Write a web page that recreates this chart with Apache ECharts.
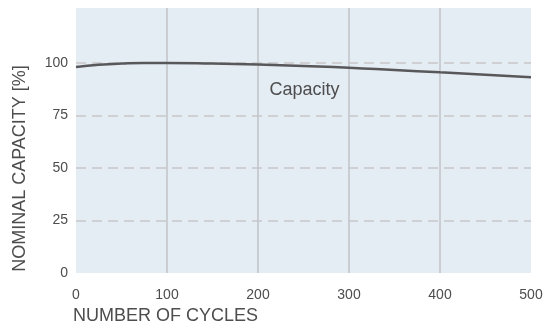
<!DOCTYPE html>
<html>
<head>
<meta charset="utf-8">
<script src="https://cdn.jsdelivr.net/npm/echarts@6/dist/echarts.min.js"></script>
<style>
	html, body { margin: 0; padding: 0; background: #fff; }
	#chart { width: 552px; height: 329px; }
</style>
</head>
<body>
<div id="chart"></div>
<script>
// capacity curve
var cycles = [0, 25, 50, 75, 100, 150, 200, 250, 300, 350, 400, 450, 500];
var capacity = [98.0, 99.0, 99.6, 99.9, 99.9, 99.6, 99.1, 98.4, 97.6, 96.5, 95.4, 94.3, 93.1];
var xTicks = [0, 100, 200, 300, 400, 500];
var yTicks = [0, 25, 50, 75, 100];
var seriesName = 'Capacity';

var textColor = '#4d4d4d';
var font = 'Liberation Sans, Arial, sans-serif';

var myChart = echarts.init(document.getElementById('chart'));

var option = {
	animation: false,
	grid: {
		left: 76,
		right: 21,
		top: 8,
		bottom: 56,
		show: true,
		backgroundColor: '#e4ecf4',
		borderWidth: 0,
		outerBoundsMode: 'none',
		containLabel: false
	},
	xAxis: {
		type: 'value',
		min: 0,
		max: 500,
		interval: 100,
		name: 'NUMBER OF CYCLES',
		nameLocation: 'start',
		nameGap: 0,
		nameTextStyle: {
			color: textColor,
			fontSize: 18,
			fontFamily: font,
			align: 'left',
			verticalAlign: 'top',
			padding: [34, 0, 0, -3]
		},
		axisLine: { show: false },
		axisTick: { show: false },
		axisLabel: {
			color: textColor,
			fontSize: 14,
			fontFamily: font,
			margin: 15,
			formatter: function (v) { return xTicks.indexOf(v) >= 0 ? String(v) : ''; }
		},
		splitLine: {
			show: true,
			lineStyle: {
				color: ['transparent', '#c2c4c8', '#c2c4c8', '#c2c4c8', '#c2c4c8', 'transparent'],
				width: 1.5
			}
		}
	},
	yAxis: {
		type: 'value',
		min: 0,
		max: 126,
		interval: 25,
		name: 'NOMINAL CAPACITY [%]',
		nameLocation: 'middle',
		nameGap: 47,
		nameTextStyle: {
			color: textColor,
			fontSize: 18,
			fontFamily: font,
			padding: [0, 56, 0, 0]
		},
		axisLine: { show: false },
		axisTick: { show: false },
		axisLabel: {
			color: textColor,
			fontSize: 14,
			fontFamily: font,
			margin: 8,
			formatter: function (v) { return yTicks.indexOf(v) >= 0 ? String(v) : ''; }
		},
		splitLine: {
			show: true,
			lineStyle: {
				color: ['transparent', '#c6c6c8', '#c6c6c8', '#c6c6c8', '#c6c6c8', 'transparent', 'transparent'],
				type: [10, 6],
				width: 1.5
			}
		}
	},
	series: [{
		name: seriesName,
		type: 'line',
		smooth: true,
		symbol: 'none',
		lineStyle: { color: '#58585a', width: 2.5 },
		data: cycles.map(function (c, i) { return [c, capacity[i]]; }),
		markPoint: {
			symbol: 'circle',
			symbolSize: 0,
			data: [{
				coord: [251, 87],
				label: {
					show: true,
					position: 'inside',
					formatter: seriesName,
					color: textColor,
					fontSize: 18,
					fontFamily: font
				}
			}]
		}
	}]
};

myChart.setOption(option);
</script>
</body>
</html>
